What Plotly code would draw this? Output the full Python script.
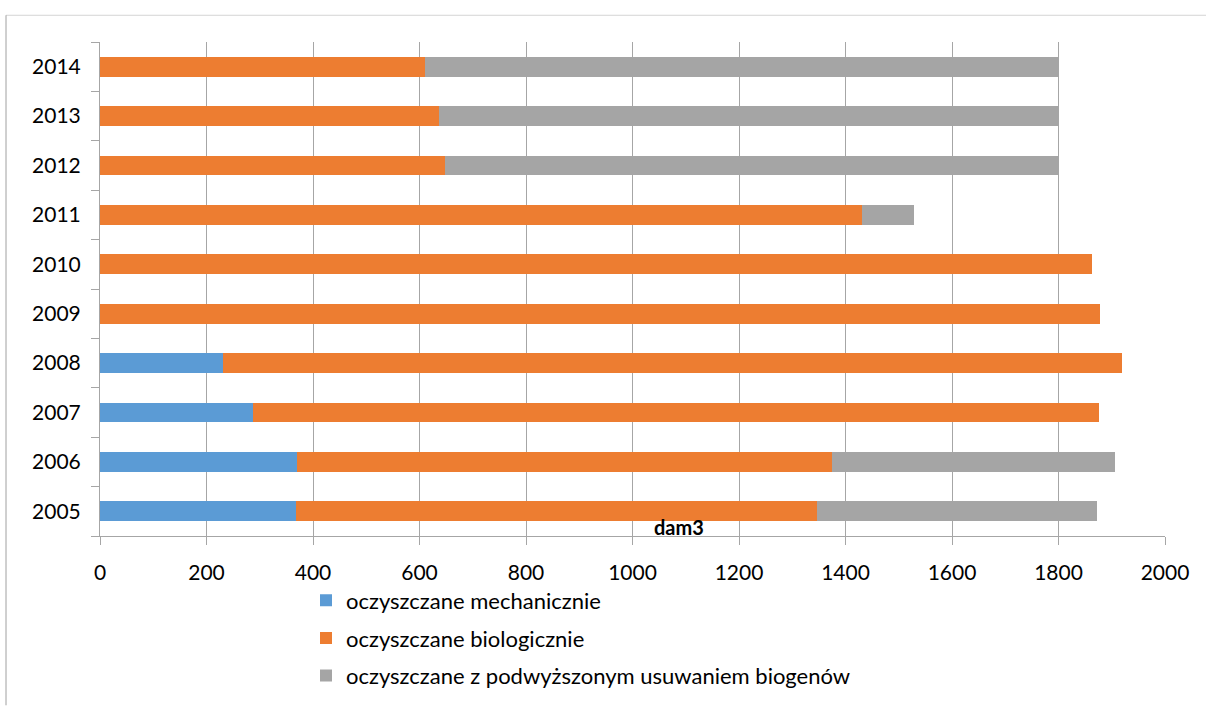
import plotly.graph_objects as go

years = ["2005", "2006", "2007", "2008", "2009", "2010", "2011", "2012", "2013", "2014"]
mechaniczne = [368, 370, 287, 231, 0, 0, 0, 0, 0, 0]
biologiczne = [978, 1005, 1589, 1688, 1877, 1863, 1431, 648, 636, 611]
biogeny = [527, 532, 0, 0, 0, 0, 98, 1152, 1164, 1189]

names = ["oczyszczane mechanicznie", "oczyszczane biologicznie",
         "oczyszczane z podwyższonym usuwaniem biogenów"]
colors = ["#5B9BD5", "#ED7D31", "#A5A5A5"]
x_ticks = [0, 200, 400, 600, 800, 1000, 1200, 1400, 1600, 1800, 2000]

W, H = 1206, 709
ml, mr, mt, mb = 100, 41, 42, 168
pw = W - ml - mr
ph = H - mt - mb

def px_x(p):
    return (p - ml) / pw

def px_y(p):
    return (H - mb - p) / ph

fig = go.Figure()
for vals, nm, col in zip([mechaniczne, biologiczne, biogeny], names, colors):
    fig.add_trace(go.Bar(
        y=years, x=vals, name=nm, orientation="h",
        marker=dict(color=col, line=dict(width=0)),
        legendgroup=nm,
    ))

font_family = "Lato, 'Open Sans', sans-serif"

fig.update_layout(
    width=W, height=H,
    margin=dict(l=ml, r=mr, t=mt, b=mb),
    barmode="stack",
    bargap=0.6,
    plot_bgcolor="white",
    paper_bgcolor="white",
    font=dict(family=font_family, color="#000000"),
    legend=dict(
        x=px_x(306), y=px_y(585), xanchor="left", yanchor="top",
        orientation="v", traceorder="grouped", tracegroupgap=6,
        font=dict(size=22, color="#000000"),
        bgcolor="rgba(0,0,0,0)",
    ),
    xaxis=dict(
        range=[0, 2000], tickvals=x_ticks,
        showgrid=True, gridcolor="#A6A6A6", gridwidth=1,
        showline=True, linecolor="#A6A6A6", linewidth=1,
        ticks="outside", ticklen=8, tickcolor="#A6A6A6",
        tickfont=dict(size=21, color="#000000"),
        ticklabelstandoff=10,
        zeroline=False,
    ),
    yaxis=dict(
        type="category", categoryorder="array", categoryarray=years,
        showline=True, linecolor="#A6A6A6", linewidth=1,
        ticks="outside", ticklen=8, tickcolor="#A6A6A6",
        tickson="boundaries",
        showgrid=False,
        tickfont=dict(size=21, color="#000000"),
        ticklabelstandoff=14,
    ),
    annotations=[dict(
        text="<b>dam3</b>", xref="paper", yref="paper",
        x=px_x(679), y=px_y(532), xanchor="center", yanchor="middle",
        showarrow=False, font=dict(size=20, color="#000000", family=font_family),
    )],
    shapes=[
        dict(type="line", xref="paper", yref="paper",
             x0=px_x(6), x1=px_x(1210), y0=px_y(15), y1=px_y(15),
             line=dict(color="#D4D4D4", width=1)),
        dict(type="line", xref="paper", yref="paper",
             x0=px_x(6), x1=px_x(6), y0=px_y(15), y1=px_y(712),
             line=dict(color="#A0A0A0", width=1)),
    ],
)

fig.write_html("out.html", config={"displayModeBar": False},
               post_script="document.body.style.margin='0';")
